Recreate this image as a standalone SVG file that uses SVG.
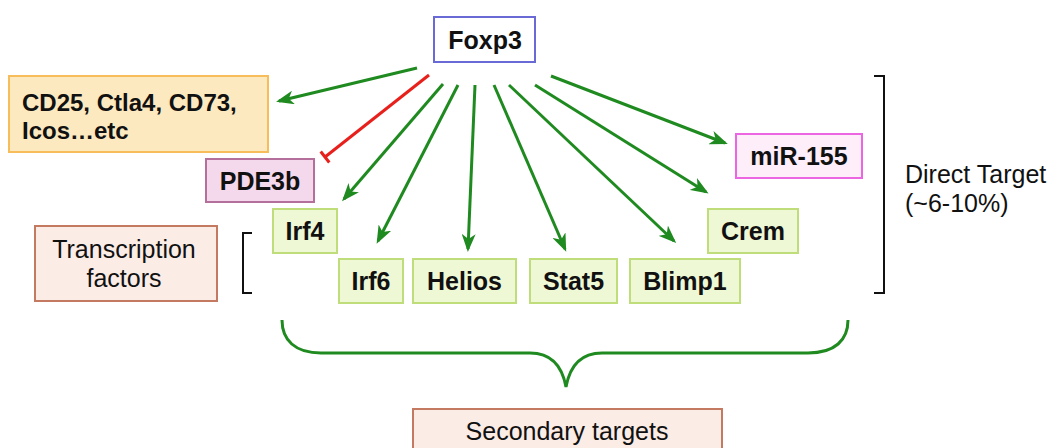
<svg xmlns="http://www.w3.org/2000/svg" width="1062" height="448" viewBox="0 0 1062 448">
  <style>
    .b { font-family: "Liberation Sans", Arial, sans-serif; font-weight: bold; font-size: 25px; fill: #111; }
    .r { font-family: "Liberation Sans", Arial, sans-serif; font-size: 25px; fill: #111; }
    .m { text-anchor: middle; }
    .g { fill: #eff8d4; stroke: #bfdd7a; stroke-width: 2; }
    .tf { fill: #fbece6; stroke: #c47a60; stroke-width: 2; }
    .arr { stroke: #1f8a1f; stroke-width: 3; fill: none; marker-end: url(#ah); }
    .brk { stroke: #111; stroke-width: 2; fill: none; }
  </style>
  <defs>
    <marker id="ah" markerUnits="userSpaceOnUse" viewBox="0 0 18 14" refX="15" refY="7" markerWidth="18" markerHeight="14" orient="auto">
      <path d="M0,0 L18,7 L0,14 L5,7 z" fill="#1f8a1f"/>
    </marker>
  </defs>
  <rect width="1062" height="448" fill="#ffffff"/>

  <g id="connectors">
    <line class="arr" x1="417" y1="68" x2="279" y2="101"/>
    <line class="arr" x1="443" y1="84" x2="344" y2="199"/>
    <line class="arr" x1="458" y1="85" x2="378" y2="241"/>
    <line class="arr" x1="475" y1="85" x2="468" y2="249"/>
    <line class="arr" x1="494" y1="85" x2="565" y2="249"/>
    <line class="arr" x1="509" y1="85" x2="674" y2="241"/>
    <line class="arr" x1="535" y1="85" x2="706" y2="192"/>
    <line class="arr" x1="551" y1="76" x2="725" y2="143"/>
    <line x1="429" y1="75" x2="325" y2="157" stroke="#e8201c" stroke-width="3"/>
    <line x1="320.7" y1="151.5" x2="329.3" y2="162.5" stroke="#e8201c" stroke-width="3"/>
    <path d="M282,320 C282,340 295,353 321,353 L530,353 C550,353 562,365 566,387 C570,365 582,353 602,353 L808,353 C835,353 848,340 848,320" stroke="#1f8a1f" stroke-width="3" fill="none"/>
    <path class="brk" d="M874,76 L884,76 L884,293 L874,293"/>
    <path class="brk" d="M252,233 L243,233 L243,293 L252,293"/>
  </g>

  <g id="foxp3">
    <rect x="434" y="17" width="101" height="45" fill="#ffffff" stroke="#6a6ad6" stroke-width="2"/>
    <text class="b m" x="485" y="49">Foxp3</text>
  </g>
  <g id="cd25">
    <rect x="9" y="76" width="259" height="76" fill="#fde9c0" stroke="#f6bd5a" stroke-width="2"/>
    <text class="b" x="22" y="111" style="font-size:24px">CD25, Ctla4, CD73,</text>
    <text class="b" x="22" y="139" style="font-size:24px">Icos…etc</text>
  </g>
  <g id="pde3b">
    <rect x="206" y="159" width="108" height="43" fill="#f4d9ec" stroke="#b4709a" stroke-width="2"/>
    <text class="b m" x="260" y="190">PDE3b</text>
  </g>
  <g id="mir155">
    <rect x="736" y="134" width="126" height="44" fill="#fdeefa" stroke="#ec66e4" stroke-width="2"/>
    <text class="b m" x="799" y="165">miR-155</text>
  </g>
  <g id="irf4">
    <rect class="g" x="273" y="209" width="64" height="44"/>
    <text class="b m" x="305" y="240">Irf4</text>
  </g>
  <g id="crem">
    <rect class="g" x="708" y="209" width="90" height="44"/>
    <text class="b m" x="753" y="240">Crem</text>
  </g>
  <g id="irf6">
    <rect class="g" x="339" y="259" width="64" height="44"/>
    <text class="b m" x="371" y="290">Irf6</text>
  </g>
  <g id="helios">
    <rect class="g" x="413" y="259" width="103" height="44"/>
    <text class="b m" x="464.5" y="290">Helios</text>
  </g>
  <g id="stat5">
    <rect class="g" x="530" y="259" width="87" height="44"/>
    <text class="b m" x="573.5" y="290">Stat5</text>
  </g>
  <g id="blimp1">
    <rect class="g" x="630" y="259" width="110" height="44"/>
    <text class="b m" x="685" y="290">Blimp1</text>
  </g>
  <g id="transcription-factors">
    <rect class="tf" x="35" y="226" width="182" height="75"/>
    <text class="r m" x="124" y="258">Transcription</text>
    <text class="r m" x="124" y="287">factors</text>
  </g>
  <g id="direct-target">
    <text class="r" x="905" y="183">Direct Target</text>
    <text class="r" x="905" y="212">(~6-10%)</text>
  </g>
  <g id="secondary-targets">
    <rect class="tf" x="413" y="409" width="309" height="50"/>
    <text class="r m" x="567" y="440">Secondary targets</text>
  </g>
</svg>
